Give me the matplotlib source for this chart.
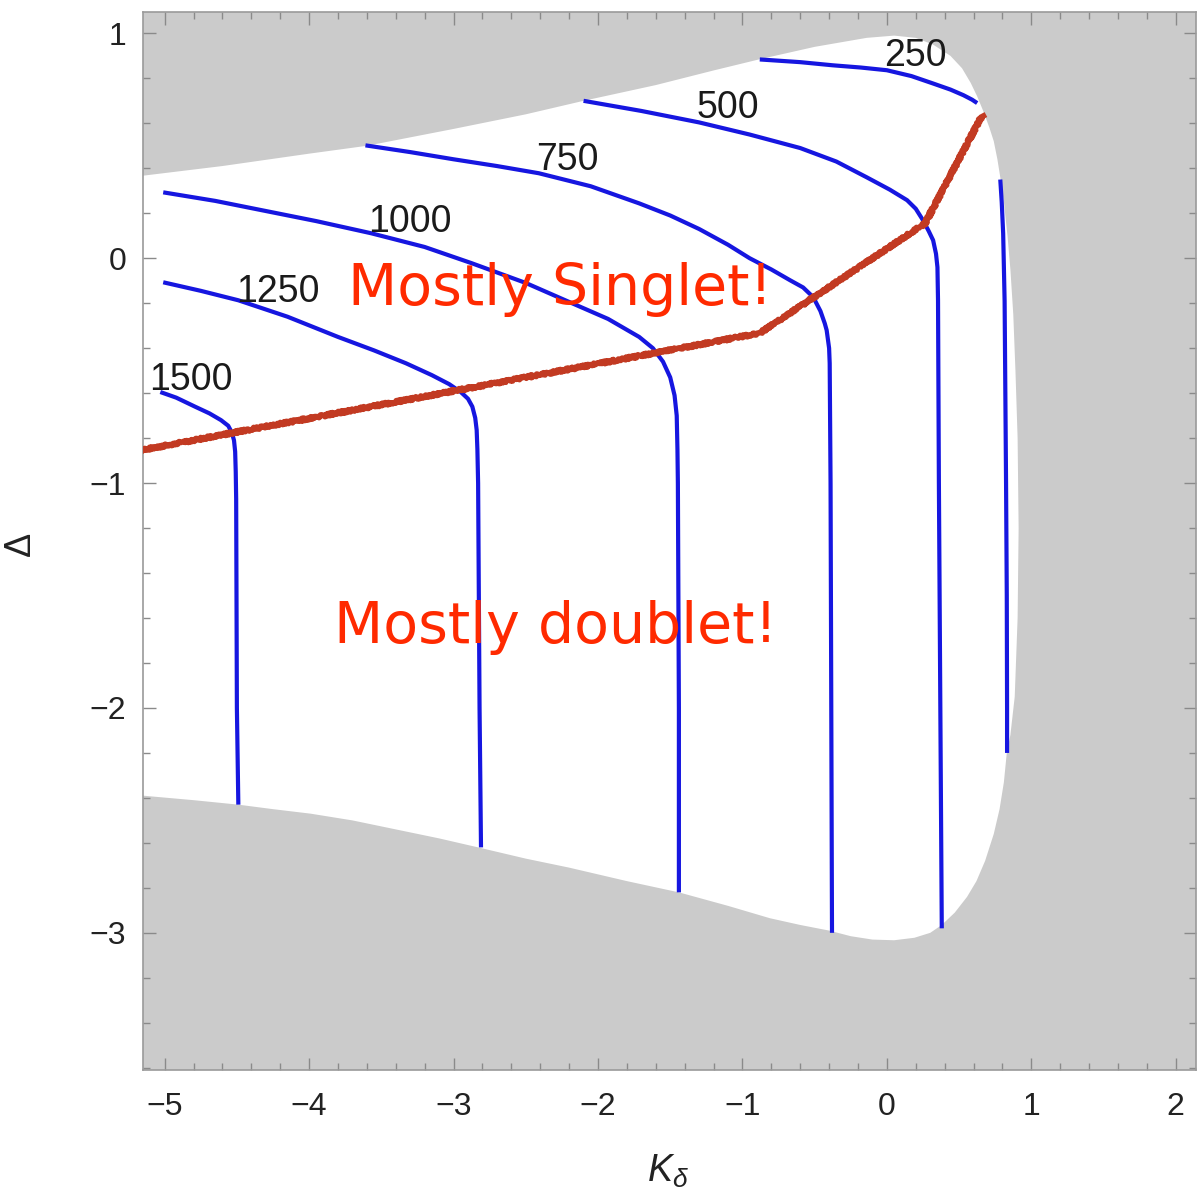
import numpy as np
import matplotlib.pyplot as plt

plt.rcParams['font.family'] = ['Liberation Sans', 'DejaVu Sans']
plt.rcParams['mathtext.fontset'] = 'custom'
plt.rcParams['mathtext.rm'] = 'Liberation Sans'
plt.rcParams['mathtext.it'] = 'Liberation Sans:italic'

# allowed (white) region, traced clockwise from the upper-left corner
region_x = [-5.3, -5.15, -4.6, -4.0, -3.6, -3.0, -2.5, -2.1, -1.6, -1.2, -0.88, -0.5,
            -0.14, 0.05, 0.2, 0.32, 0.44, 0.52, 0.58, 0.625, 0.67, 0.71, 0.74, 0.765,
            0.785, 0.81, 0.835, 0.855, 0.875, 0.89, 0.905, 0.912, 0.905, 0.885, 0.855,
            0.83, 0.81, 0.78, 0.74, 0.68, 0.62, 0.555, 0.47, 0.38, 0.30, 0.19, 0.05,
            -0.1, -0.25, -0.4, -0.6, -0.81, -1.1, -1.44, -1.8, -2.2, -2.5, -2.83, -3.1,
            -3.4, -3.7, -3.99, -4.25, -4.49, -4.8, -5.15, -5.3]
region_y = [0.355, 0.367, 0.41, 0.465, 0.50, 0.575, 0.64, 0.70, 0.77, 0.835, 0.885, 0.94,
            0.98, 0.99, 0.98, 0.95, 0.90, 0.845, 0.78, 0.72, 0.65, 0.58, 0.52, 0.44,
            0.36, 0.25, 0.10, -0.05, -0.25, -0.5, -0.8, -1.2, -1.6, -1.95, -2.12,
            -2.2, -2.33, -2.45, -2.56, -2.68, -2.77, -2.84, -2.91, -2.965, -3.0, -3.022, -3.033,
            -3.03, -3.015, -2.99, -2.965, -2.935, -2.88, -2.82, -2.77, -2.71, -2.67, -2.62, -2.58,
            -2.54, -2.5, -2.47, -2.45, -2.43, -2.41, -2.39, -2.385]

# contour lines (nan splits the 250 line where it leaves the region)
contours = {
    250: ([-0.88, -0.6, -0.375, -0.18, 0.0, 0.17, 0.32, 0.44, 0.53, 0.59, 0.625, np.nan,
           0.785, 0.795, 0.805, 0.815, 0.825, 0.83, 0.832, 0.832],
          [0.884, 0.872, 0.858, 0.848, 0.836, 0.81, 0.777, 0.75, 0.725, 0.705, 0.69, np.nan,
           0.35, 0.25, 0.11, -0.19, -1.0, -1.5, -2.0, -2.2]),
    500: ([-2.10, -1.70, -1.30, -0.95, -0.60, -0.35, -0.14, 0.02, 0.14, 0.20, 0.25, 0.29,
           0.32, 0.34, 0.35, 0.354, 0.36, 0.37, 0.38],
          [0.70, 0.655, 0.604, 0.55, 0.49, 0.43, 0.36, 0.305, 0.258, 0.22, 0.169, 0.12,
           0.08, 0.02, -0.04, -0.187, -1.0, -2.0, -2.98]),
    750: ([-3.61, -3.3, -3.0, -2.7, -2.41, -2.05, -1.715, -1.5, -1.30, -1.1, -0.95, -0.80,
           -0.67, -0.58, -0.51, -0.46, -0.43, -0.417, -0.40, -0.396, -0.39, -0.385, -0.38],
          [0.502, 0.472, 0.44, 0.41, 0.378, 0.32, 0.244, 0.19, 0.13, 0.06, 0.0, -0.05,
           -0.098, -0.13, -0.173, -0.235, -0.29, -0.32, -0.40, -0.467, -1.0, -2.0, -3.0]),
    1000: ([-5.01, -4.65, -4.3, -3.95, -3.57, -3.2, -2.875, -2.5, -2.18, -1.93, -1.715,
            -1.62, -1.55, -1.50, -1.47, -1.455, -1.45, -1.447, -1.44, -1.44],
           [0.293, 0.255, 0.21, 0.165, 0.111, 0.05, -0.022, -0.11, -0.20, -0.27, -0.35,
            -0.40, -0.46, -0.53, -0.61, -0.70, -0.85, -1.0, -2.0, -2.82]),
    1250: ([-5.01, -4.75, -4.49, -4.15, -3.80, -3.55, -3.33, -3.15, -3.03, -2.95, -2.90,
            -2.87, -2.85, -2.84, -2.835, -2.83, -2.82, -2.81],
           [-0.107, -0.145, -0.187, -0.26, -0.35, -0.41, -0.467, -0.52, -0.56, -0.595, -0.625,
            -0.66, -0.71, -0.764, -0.85, -1.0, -2.0, -2.62]),
    1500: ([-5.03, -4.92, -4.79, -4.69, -4.61, -4.56, -4.535, -4.52, -4.512, -4.508,
            -4.505, -4.50, -4.49],
           [-0.595, -0.62, -0.66, -0.69, -0.72, -0.745, -0.775, -0.81, -0.86, -0.95,
            -1.07, -2.0, -2.43]),
}
label_x = [0.20, -1.10, -2.215, -3.305, -4.215, -4.82]
label_y = [0.90, 0.67, 0.435, 0.16, -0.15, -0.54]
label_txt = ['250', '500', '750', '1000', '1250', '1500']

# hand-drawn separator
sep_x = [-5.3, -0.88, 0.264, 0.66]
sep_y = [-0.87, -0.333, 0.155, 0.636]

fig = plt.figure(figsize=(11.98, 12.01), dpi=100)
ax = fig.add_axes([143 / 1198, (1201 - 1070) / 1201, 1053 / 1198, 1058 / 1201])
ax.set_facecolor('#cbcbcb')
ax.fill(region_x, region_y, color='white', lw=0, zorder=1)

for val, (cx, cy) in contours.items():
    ax.plot(cx, cy, color='#1616e0', lw=3.0, zorder=2, solid_capstyle='butt',
            solid_joinstyle='round')

for lx, ly, t in zip(label_x, label_y, label_txt):
    ax.text(lx, ly, t, fontsize=27, color='#1a1a1a', ha='center', va='center', zorder=4)

sep, = ax.plot(sep_x, sep_y, color='#c23a22', lw=4.0, zorder=3)
sep.set_sketch_params(scale=1.4, length=3, randomness=2)

ax.text(-2.26, -0.14, 'Mostly Singlet!', fontsize=41, color='#ff2a00',
        family='DejaVu Sans', ha='center', va='center', zorder=5)
ax.text(-2.29, -1.64, 'Mostly doublet!', fontsize=41, color='#ff2a00',
        family='DejaVu Sans', ha='center', va='center', zorder=5)

ax.set_xlim(-5.15, 2.14)
ax.set_ylim(-3.61, 1.095)
ax.set_xticks(range(-5, 3))
ax.set_yticks(range(-3, 2))
ax.set_xticks(np.arange(-5.0, 2.2, 0.2), minor=True)
ax.set_yticks(np.arange(-3.6, 1.1, 0.2), minor=True)
ax.tick_params(which='both', direction='in', top=True, right=True, color='#8a8a8a',
               width=1.0)
ax.tick_params(which='major', length=9, labelsize=23, labelcolor='#222222')
ax.tick_params(axis='x', which='major', pad=16)
ax.tick_params(axis='y', which='major', pad=12)
ax.tick_params(which='minor', length=5)
for sp in ax.spines.values():
    sp.set_color('#9a9a9a')
    sp.set_linewidth(1.2)

ax.set_xlabel(r'$K_\delta$', fontsize=27, color='#222222')
ax.xaxis.set_label_coords((668 - 143) / 1053, -0.078)
ax.set_ylabel('Δ', fontsize=26, color='#222222')
ax.yaxis.set_label_coords((38 - 143) / 1053, 0.497)

fig.savefig('out.png', dpi=100)
